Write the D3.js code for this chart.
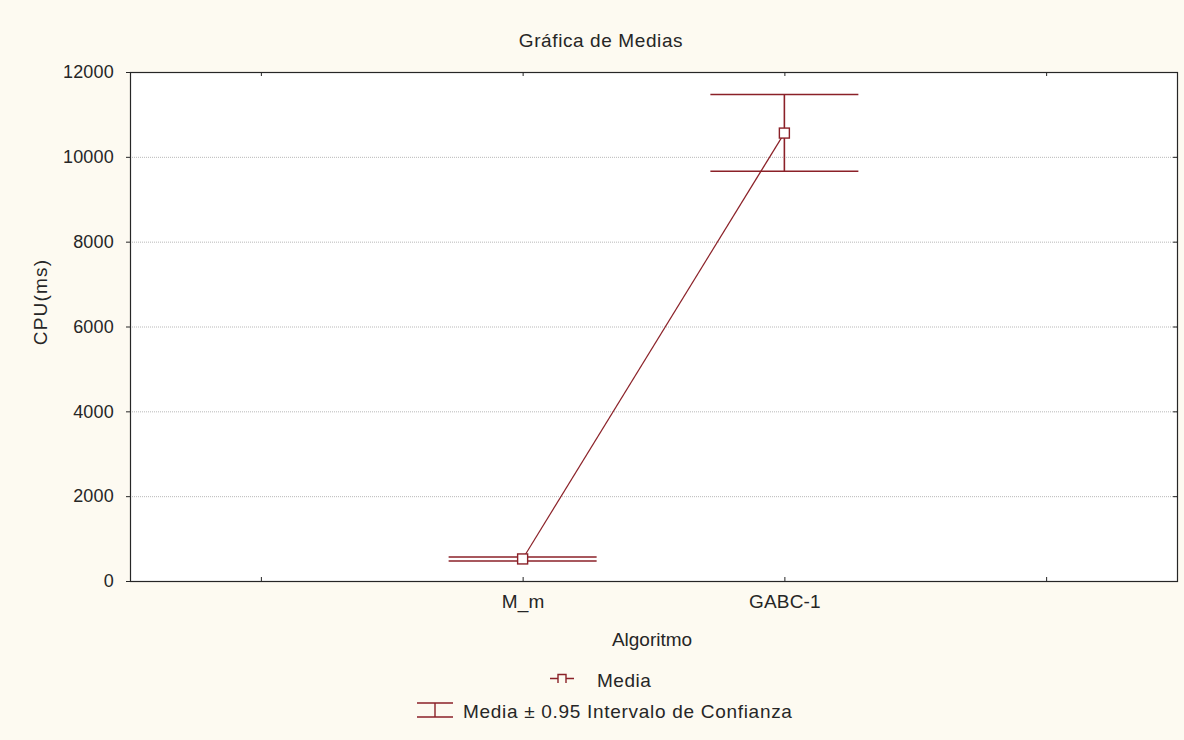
<!DOCTYPE html>
<html>
<head>
<meta charset="utf-8">
<script src="https://cdn.jsdelivr.net/npm/d3@7"></script>
<style>
  html, body { margin: 0; padding: 0; background: #fdfaf1; }
  svg { display: block; font-family: "Liberation Sans", Arial, sans-serif; }
</style>
</head>
<body>
<svg id="chart" width="1184" height="740"></svg>
<script>
// Category data: means and 0.95 confidence interval bounds
const categories = ["M_m", "GABC-1"];
const catPositions = [2, 3];
const means = [520, 10560];
const ciLower = [470, 9660];
const ciUpper = [565, 11470];
const yTicks = [0, 2000, 4000, 6000, 8000, 10000, 12000];
const xTickPositions = [1, 2, 3, 4];

const color = "#8b2128";
const textColor = "#262626";
const svg = d3.select("#chart");

const plot = { left: 130, right: 1177, top: 72, bottom: 581 };

const x = d3.scaleLinear().domain([0.5, 4.5]).range([plot.left, plot.right]);
const y = d3.scaleLinear().domain([0, 12000]).range([plot.bottom, plot.top]);

// plot background
svg.append("rect")
  .attr("x", plot.left).attr("y", plot.top)
  .attr("width", plot.right - plot.left).attr("height", plot.bottom - plot.top)
  .attr("fill", "#ffffff");

// horizontal dotted grid
svg.append("g").selectAll("line")
  .data(yTicks.filter(d => d > 0 && d < 12000))
  .join("line")
  .attr("x1", plot.left).attr("x2", plot.right)
  .attr("y1", d => y(d) + 0.5).attr("y2", d => y(d) + 0.5)
  .attr("stroke", "#b8b8b8").attr("stroke-width", 1)
  .attr("stroke-dasharray", "1,1");

// axes
const leftAxis = d3.axisLeft(y).tickValues(yTicks).tickSize(4).tickFormat(d3.format("d"));
const rightAxis = d3.axisRight(y).tickValues(yTicks).tickSize(-4).tickFormat("");
const bottomAxis = d3.axisBottom(x).tickValues(xTickPositions).tickSize(-4)
  .tickFormat(d => { const i = catPositions.indexOf(d); return i >= 0 ? categories[i] : ""; });
const topAxis = d3.axisTop(x).tickValues(xTickPositions).tickSize(-4).tickFormat("");

function styleAxis(g) {
  g.select(".domain").remove();
  g.selectAll(".tick line").attr("stroke", textColor);
  g.selectAll(".tick text").attr("fill", textColor).style("font-size", "18px").style("letter-spacing", "0.2px");
}

svg.append("g").attr("transform", `translate(${plot.left},0)`).call(leftAxis).call(styleAxis)
  .selectAll(".tick text").attr("x", -16);
svg.append("g").attr("transform", `translate(${plot.right},0)`).call(rightAxis).call(styleAxis);
svg.append("g").attr("transform", `translate(0,${plot.bottom})`).call(bottomAxis).call(styleAxis)
  .selectAll(".tick text").attr("y", 14).style("font-size", "19px");
svg.append("g").attr("transform", `translate(0,${plot.top})`).call(topAxis).call(styleAxis);

// frame
svg.append("rect")
  .attr("x", plot.left + 0.5).attr("y", plot.top + 0.5)
  .attr("width", plot.right - plot.left).attr("height", plot.bottom - plot.top)
  .attr("fill", "none").attr("stroke", textColor).attr("stroke-width", 1.2);

// error bars
const capHalf = 74;
const eb = svg.append("g").attr("stroke", color).attr("stroke-width", 1.6).attr("fill", "none");
categories.forEach((c, i) => {
  const cx = x(catPositions[i]);
  eb.append("line").attr("x1", cx).attr("x2", cx).attr("y1", y(ciLower[i])).attr("y2", y(ciUpper[i]));
  eb.append("line").attr("x1", cx - capHalf).attr("x2", cx + capHalf).attr("y1", y(ciLower[i])).attr("y2", y(ciLower[i]));
  eb.append("line").attr("x1", cx - capHalf).attr("x2", cx + capHalf).attr("y1", y(ciUpper[i])).attr("y2", y(ciUpper[i]));
});

// mean line
svg.append("path")
  .datum(means.map((m, i) => [x(catPositions[i]), y(m)]))
  .attr("d", d3.line())
  .attr("fill", "none").attr("stroke", color).attr("stroke-width", 1.2);

// mean markers
svg.append("g").selectAll("rect")
  .data(means)
  .join("rect")
  .attr("x", (d, i) => x(catPositions[i]) - 5)
  .attr("y", d => y(d) - 5)
  .attr("width", 10).attr("height", 10)
  .attr("fill", "#ffffff").attr("stroke", color).attr("stroke-width", 1.4);

// titles
svg.append("text").attr("x", 601).attr("y", 47).attr("text-anchor", "middle")
  .style("font-size", "19px").style("letter-spacing", "0.6px").attr("fill", textColor).text("Gráfica de Medias");
svg.append("text").attr("transform", "translate(47,302) rotate(-90)").attr("text-anchor", "middle")
  .style("font-size", "19px").style("letter-spacing", "1.2px").attr("fill", textColor).text("CPU(ms)");
svg.append("text").attr("x", 652).attr("y", 646).attr("text-anchor", "middle")
  .style("font-size", "19px").attr("fill", textColor).text("Algoritmo");

// legend
const lg = svg.append("g");
lg.append("path").attr("d", "M550,678.5 H558 M558,683 V674.5 H566 V683 M566,678.5 H574")
  .attr("fill", "none").attr("stroke", color).attr("stroke-width", 1.4);
lg.append("text").attr("x", 597).attr("y", 687).style("font-size", "19px").style("letter-spacing", "0.5px")
  .attr("fill", textColor).text("Media");
lg.append("path").attr("d", "M417,703 H453 M435,703 V717 M417,717 H453")
  .attr("fill", "none").attr("stroke", color).attr("stroke-width", 1.4);
lg.append("text").attr("x", 463).attr("y", 718).style("font-size", "19px").style("letter-spacing", "0.7px")
  .attr("fill", textColor).text("Media ± 0.95 Intervalo de Confianza");
</script>
</body>
</html>
